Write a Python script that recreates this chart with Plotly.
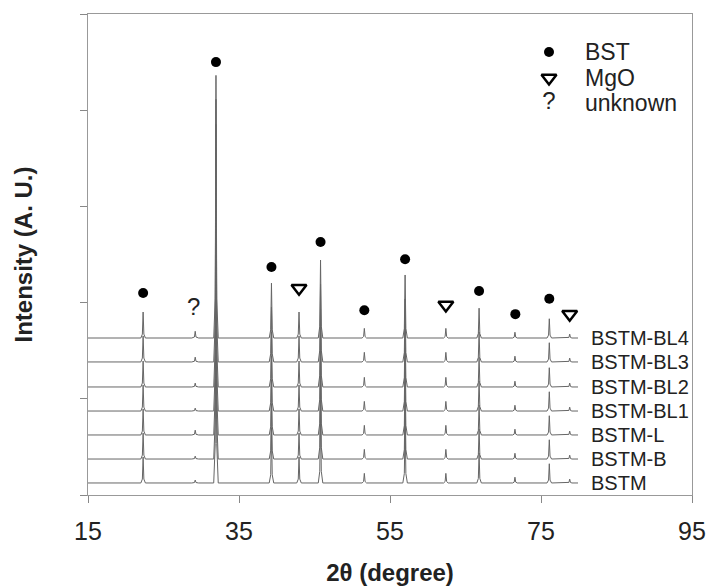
import plotly.graph_objects as go

# sample names, bottom to top, and their baselines (stacked offset, A.U.)
samples = ['BSTM', 'BSTM-B', 'BSTM-L', 'BSTM-BL1', 'BSTM-BL2', 'BSTM-BL3', 'BSTM-BL4']
baselines = [0.125, 0.374, 0.624, 0.873, 1.123, 1.383, 1.632]

# reflections (2theta, degree) and peak heights above baseline
peak_pos = [22.3, 31.95, 39.3, 42.95, 45.8, 51.6, 57.0, 62.4, 66.8, 71.55, 76.1, 78.8]
peak_h = [0.27, 2.73, 0.57, 0.27, 0.81, 0.10, 0.655, 0.10, 0.31, 0.06, 0.20, 0.04]
# small "unknown" bump near 29 deg, per sample
unknown_pos = 29.2
unknown_h = [0.03, 0.03, 0.05, 0.03, 0.04, 0.05, 0.07]
scan_start, scan_end = 15.0, 79.9

# phase markers
bst_x = [22.3, 31.95, 39.3, 45.8, 51.6, 57.0, 66.8, 71.6, 76.1]
bst_y = [2.10, 4.50, 2.37, 2.63, 1.92, 2.45, 2.12, 1.88, 2.04]
mgo_x = [42.95, 62.4, 78.8]
mgo_y = [2.15, 1.975, 1.88]
unk_x = [29.0]
unk_y = [1.93]

font = 'Liberation Sans, Arial'
fig = go.Figure()

for name, base, uh in zip(samples, baselines, unknown_h):
    xs = [scan_start]
    ys = [base]
    peaks = sorted(zip(peak_pos + [unknown_pos], peak_h + [uh]))
    for p, h in peaks:
        w = 0.45 if p == unknown_pos else 0.3
        xs += [p - w, p - 0.1, p, p + 0.1, p + w]
        ys += [base, base + 0.15 * h, base + h, base + 0.15 * h, base]
    xs.append(scan_end)
    ys.append(base)
    fig.add_trace(go.Scatter(x=xs, y=ys, mode='lines', line=dict(color='#666666', width=1),
                             showlegend=False, hoverinfo='skip'))
    fig.add_annotation(x=81.3, y=base, text=name, showarrow=False, xanchor='left', yanchor='middle',
                       font=dict(family=font, size=20, color='#222'))

fig.add_trace(go.Scatter(x=bst_x, y=bst_y, mode='markers', marker=dict(color='black', size=10),
                         showlegend=False))
fig.add_trace(go.Scatter(x=mgo_x, y=mgo_y, mode='markers',
                         marker=dict(symbol='triangle-down-open', color='black', size=13,
                                     line=dict(width=2.5, color='black')),
                         showlegend=False))
fig.add_trace(go.Scatter(x=unk_x, y=unk_y, mode='text', text=['?'],
                         textfont=dict(family=font, size=24, color='#222'),
                         showlegend=False))

# legend drawn by hand, top right
fig.add_trace(go.Scatter(x=[76.06], y=[4.605], mode='markers', marker=dict(color='black', size=10),
                         showlegend=False))
fig.add_trace(go.Scatter(x=[76.06], y=[4.335], mode='markers',
                         marker=dict(symbol='triangle-down-open', color='black', size=13,
                                     line=dict(width=2.5, color='black')),
                         showlegend=False))
fig.add_trace(go.Scatter(x=[76.06], y=[4.075], mode='text', text=['?'],
                         textfont=dict(family=font, size=24, color='#222'),
                         showlegend=False))
for txt, yy in [('BST', 4.605), ('MgO', 4.335), ('unknown', 4.075)]:
    fig.add_annotation(x=80.56, y=yy, text=txt, showarrow=False, xanchor='left', yanchor='middle',
                       font=dict(family=font, size=23, color='#222'))

fig.update_xaxes(range=[15, 95], tickvals=[15, 35, 55, 75, 95], ticks='outside', ticklen=7,
                 tickcolor='#888', linecolor='#999', linewidth=1, mirror=True,
                 showgrid=False, zeroline=False, automargin=False, ticklabelstandoff=7,
                 tickfont=dict(family=font, size=25, color='#222'),
                 title=dict(text='<b>2θ (degree)</b>', standoff=20,
                            font=dict(family=font, size=24, color='#222')))
fig.update_yaxes(range=[0, 5], dtick=1, ticks='outside', ticklen=7, tickcolor='#888',
                 linecolor='#999', linewidth=1, mirror=True, showticklabels=False,
                 showgrid=False, zeroline=False, automargin=False,
                 title=dict(text='<b>Intensity (A. U.)</b>', standoff=40,
                            font=dict(family=font, size=24, color='#222')))

fig.update_layout(width=709, height=587, plot_bgcolor='white', paper_bgcolor='white',
                  margin=dict(l=88, r=17, t=14, b=92))

# drop the browser's default body margin so the figure fills the window
fig.write_html("out.html", config={'displayModeBar': False},
               post_script="document.body.style.margin='0';document.body.style.overflow='hidden';")
